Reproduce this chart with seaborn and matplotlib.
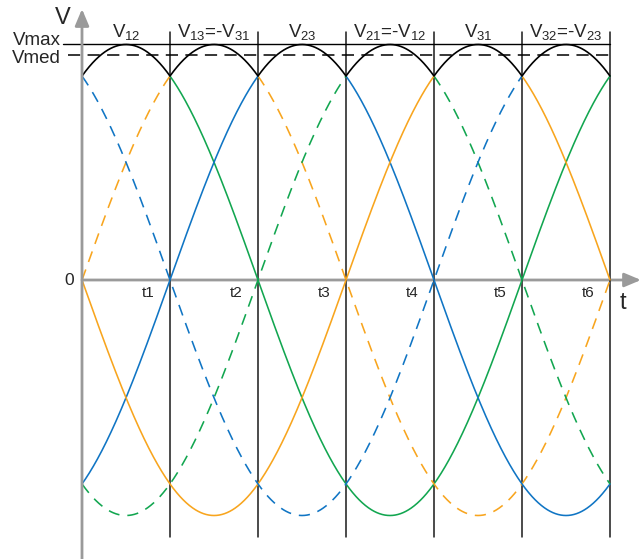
import numpy as np
import pandas as pd
import matplotlib
matplotlib.use("Agg")
import matplotlib.pyplot as plt
import seaborn as sns

# Six line voltages of a three-phase bridge; each one is the highest during one 60° interval
interval_labels = [
    r"$\mathregular{V_{12}}$",
    r"$\mathregular{V_{13}}$=-$\mathregular{V_{31}}$",
    r"$\mathregular{V_{23}}$",
    r"$\mathregular{V_{21}}$=-$\mathregular{V_{12}}$",
    r"$\mathregular{V_{31}}$",
    r"$\mathregular{V_{32}}$=-$\mathregular{V_{23}}$",
]
tick_labels = ["t1", "t2", "t3", "t4", "t5", "t6"]
curve_names = ["V12", "V13", "V23", "V21", "V31", "V32"]
peak_interval = [0, 1, 2, 3, 4, 5]
curve_colors = ["#12a650", "#f8a51e", "#1075c4", "#12a650", "#f8a51e", "#1075c4"]
curve_dashed = [False, True, False, True, False, True]
v_max = 1.0
v_med = 0.955          # mean of the rectified envelope, 3/pi of Vmax

sns.set_theme(style="white")
plt.rcParams["font.family"] = ["Liberation Sans", "DejaVu Sans"]
plt.rcParams["mathtext.default"] = "regular"

# canvas scale: pixels per interval and per Vmax
PX_X, PX_Y = 88.0, 235.5
W, H = 642, 559
X0, Y0 = 82, 280

fig = plt.figure(figsize=(W / 100, H / 100), dpi=100)
ax = fig.add_axes([0, 0, 1, 1])
ax.set_xlim(-X0 / PX_X, (W - X0) / PX_X)
ax.set_ylim(-(H - Y0) / PX_Y, Y0 / PX_Y)
ax.axis("off")

n_int = len(interval_labels)

def wave(t, k):
    return v_max * np.cos(np.deg2rad(60.0 * (t - k - 0.5)))

# colored curves, left out over the interval where they form the envelope
rows = []
for name, k in zip(curve_names, peak_interval):
    for i, (a, b) in enumerate([(0, k), (k + 1, n_int)]):
        if b <= a:
            continue
        t = np.linspace(a, b, 200 * (b - a) + 1)
        rows.append(pd.DataFrame({"t": t, "v": wave(t, k), "curve": name,
                                  "piece": f"{name}-{i}"}))
curves = pd.concat(rows, ignore_index=True)

sns.lineplot(data=curves, x="t", y="v", hue="curve", style="curve",
             units="piece", estimator=None, sort=False,
             palette=dict(zip(curve_names, curve_colors)),
             dashes={n: ((7, 5) if d else "") for n, d in zip(curve_names, curve_dashed)},
             linewidth=1.15, legend=False, ax=ax, zorder=3)

# rectified output envelope
t_all = np.linspace(0, n_int, 1201)
env = np.max([wave(t_all, k) for k in peak_interval], axis=0)
sns.lineplot(x=t_all, y=env, color="black", linewidth=1.2, ax=ax, zorder=4)

# Vmax and Vmed levels
ax.plot([(63 - X0) / PX_X, n_int], [v_max, v_max], color="black", lw=1.0, zorder=4)
ax.plot([(68 - X0) / PX_X, n_int], [v_med, v_med], color="black", lw=1.1,
        dashes=(8, 4.8), zorder=4)

# interval boundaries
top_v = (Y0 - 32) / PX_Y
bot_v = -(537 - Y0) / PX_Y
for i in range(1, n_int + 1):
    ax.plot([i, i], [bot_v, top_v], color="#1a1a1a", lw=1.1, zorder=2)

# axes with arrow heads
axis_grey = "#9a9a9a"
ax.annotate("", xy=(0, (Y0 - 9) / PX_Y), xytext=(0, -(H - Y0) / PX_Y),
            arrowprops=dict(arrowstyle="-|>,head_length=1.0,head_width=0.42",
                            mutation_scale=10, color=axis_grey, lw=2.0,
                            shrinkA=0, shrinkB=0), zorder=5)
ax.annotate("", xy=((641 - X0) / PX_X, 0), xytext=(0, 0),
            arrowprops=dict(arrowstyle="-|>,head_length=1.0,head_width=0.42",
                            mutation_scale=10, color=axis_grey, lw=2.0,
                            shrinkA=0, shrinkB=0), zorder=1)

# texts
ax.text((62.5 - X0) / PX_X, (Y0 - 24) / PX_Y, "V", fontsize=17,
        ha="center", va="baseline")
ax.text((623 - X0) / PX_X, -(309 - Y0) / PX_Y, "t", fontsize=17,
        ha="center", va="baseline")
ax.text((61 - X0) / PX_X, (Y0 - 45) / PX_Y, "Vmax", fontsize=13.5,
        ha="right", va="baseline")
ax.text((61 - X0) / PX_X, (Y0 - 63) / PX_Y, "Vmed", fontsize=13.5,
        ha="right", va="baseline")
ax.text((74 - X0) / PX_X, -(285 - Y0) / PX_Y, "0", fontsize=12.5,
        ha="right", va="baseline")
for i, lab in enumerate(tick_labels, start=1):
    ax.text(i - 15 / PX_X, -(297 - Y0) / PX_Y, lab, fontsize=11,
            ha="right", va="baseline")
for i, lab in enumerate(interval_labels):
    ax.text(i + 0.5, (Y0 - 37) / PX_Y, lab, fontsize=13.5,
            ha="center", va="baseline")

fig.savefig("out.png", dpi=100, facecolor="white")
